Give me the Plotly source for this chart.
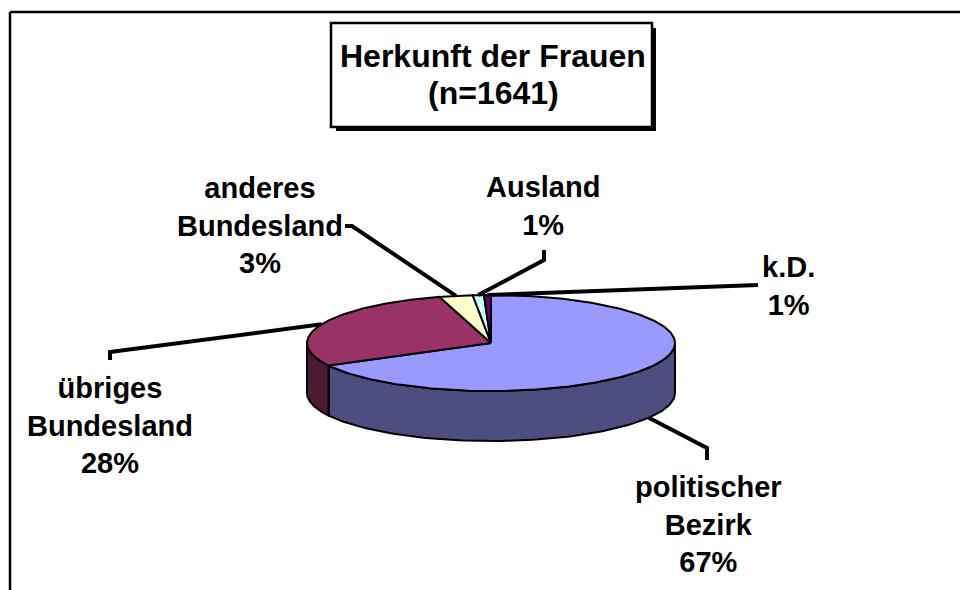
import numpy as np
import plotly.graph_objects as go

# ---- data ----
categories = ["politischer Bezirk", "übriges Bundesland", "anderes Bundesland", "Ausland", "k.D."]
label_lines = [["politischer", "Bezirk"], ["übriges", "Bundesland"], ["anderes", "Bundesland"], ["Ausland"], ["k.D."]]
counts = [1103, 464, 48, 16, 10]
title_lines = ["Herkunft der Frauen", "(n=1641)"]

# ---- styles / layout ----
top_colors = ["#9999FF", "#993366", "#FFFFCC", "#CCFFFF", "#660066"]
side_colors = ["#4D4D80", "#4D1A33", "#80806A", "#6A8080", "#330033"]
W, H = 960, 590
cx, cy, rx, ry, depth = 491, 343, 184, 48, 50
FONT = "Liberation Sans, Arial, sans-serif"
label_pos = [(708, 524), (110, 425), (260, 225), (543, 206), (788, 286)]
leader_elbows = [[(707, 448), (707, 460)], [(110, 352), (110, 360)],
                 [(352, 226), (345, 226)], [(544, 260), (544, 250)], [(758, 285)]]

total = sum(counts)
fr = np.array(counts, dtype=float) / total
cum = np.concatenate([[0.0], np.cumsum(fr)])


def pt(theta_deg, dz=0.0):
    t = np.radians(theta_deg)
    return cx + rx * np.cos(t), cy - ry * np.sin(t) + dz


fig = go.Figure()

# side faces (front half only)
for i in range(len(counts)):
    th0 = 90 - 360 * cum[i]
    th1 = 90 - 360 * cum[i + 1]
    hi, lo = min(th0, 0), max(th1, -180)
    if hi > lo:
        ts = np.linspace(hi, lo, 80)
        xt, yt = pt(ts)
        xb, yb = pt(ts[::-1], depth)
        xs = np.concatenate([xt, xb, xt[:1]])
        ys = np.concatenate([yt, yb, yt[:1]])
        fig.add_trace(go.Scatter(x=xs, y=ys, mode="lines", fill="toself",
                                 fillcolor=side_colors[i],
                                 line=dict(color="black", width=2),
                                 hoverinfo="skip", showlegend=False))

# top faces
for i in range(len(counts)):
    th0 = 90 - 360 * cum[i]
    th1 = 90 - 360 * cum[i + 1]
    n = max(4, int(abs(th0 - th1)) + 2)
    ts = np.linspace(th0, th1, n)
    xa, ya = pt(ts)
    xs = np.concatenate([[cx], xa, [cx]])
    ys = np.concatenate([[cy], ya, [cy]])
    fig.add_trace(go.Scatter(x=xs, y=ys, mode="lines", fill="toself",
                             fillcolor=top_colors[i],
                             line=dict(color="black", width=2),
                             hoverinfo="skip", showlegend=False))

# leader lines and labels
for i in range(len(counts)):
    thm = 90 - 360 * (cum[i] + cum[i + 1]) / 2
    front = np.sin(np.radians(thm)) < 0
    x0, y0 = pt(thm, depth if front else 0)
    xs = [x0] + [p[0] for p in leader_elbows[i]]
    ys = [y0] + [p[1] for p in leader_elbows[i]]
    fig.add_trace(go.Scatter(x=xs, y=ys, mode="lines",
                             line=dict(color="black", width=4),
                             hoverinfo="skip", showlegend=False))
    pct = f"{round(fr[i] * 100):.0f}%"
    txt = "<br>".join(label_lines[i] + [pct])
    fig.add_annotation(x=label_pos[i][0], y=label_pos[i][1], text=f"<b>{txt}</b>",
                       showarrow=False, xanchor="center", yanchor="middle",
                       font=dict(family=FONT, size=29, color="black"))

# title box with shadow
fig.add_shape(type="rect", x0=336, y0=28, x1=656, y1=131, fillcolor="black",
              line=dict(width=0), layer="above")
fig.add_shape(type="rect", x0=331, y0=23, x1=652, y1=127, fillcolor="white",
              line=dict(color="black", width=2.5), layer="above")
for j, (t, yy) in enumerate(zip(title_lines, [56, 93])):
    fig.add_annotation(x=493, y=yy, text=f"<b>{t}</b>", showarrow=False,
                       xanchor="center", yanchor="middle",
                       font=dict(family=FONT, size=32, color="black"))

# outer frame
fig.add_shape(type="line", x0=10, y0=12, x1=W + 5, y1=12, line=dict(color="black", width=2.5))
fig.add_shape(type="line", x0=10, y0=12, x1=10, y1=H + 5, line=dict(color="black", width=2.5))

fig.update_layout(
    width=W, height=H, margin=dict(l=0, r=0, t=0, b=0),
    paper_bgcolor="white", plot_bgcolor="white",
    xaxis=dict(range=[0, W], visible=False, fixedrange=True),
    yaxis=dict(range=[H, 0], visible=False, fixedrange=True),
    showlegend=False,
)

fig.write_html(
    "out.html",
    config={"displayModeBar": False},
    post_script="document.body.style.margin='0';document.body.style.overflow='hidden';"
                "document.documentElement.style.overflow='hidden';",
)
